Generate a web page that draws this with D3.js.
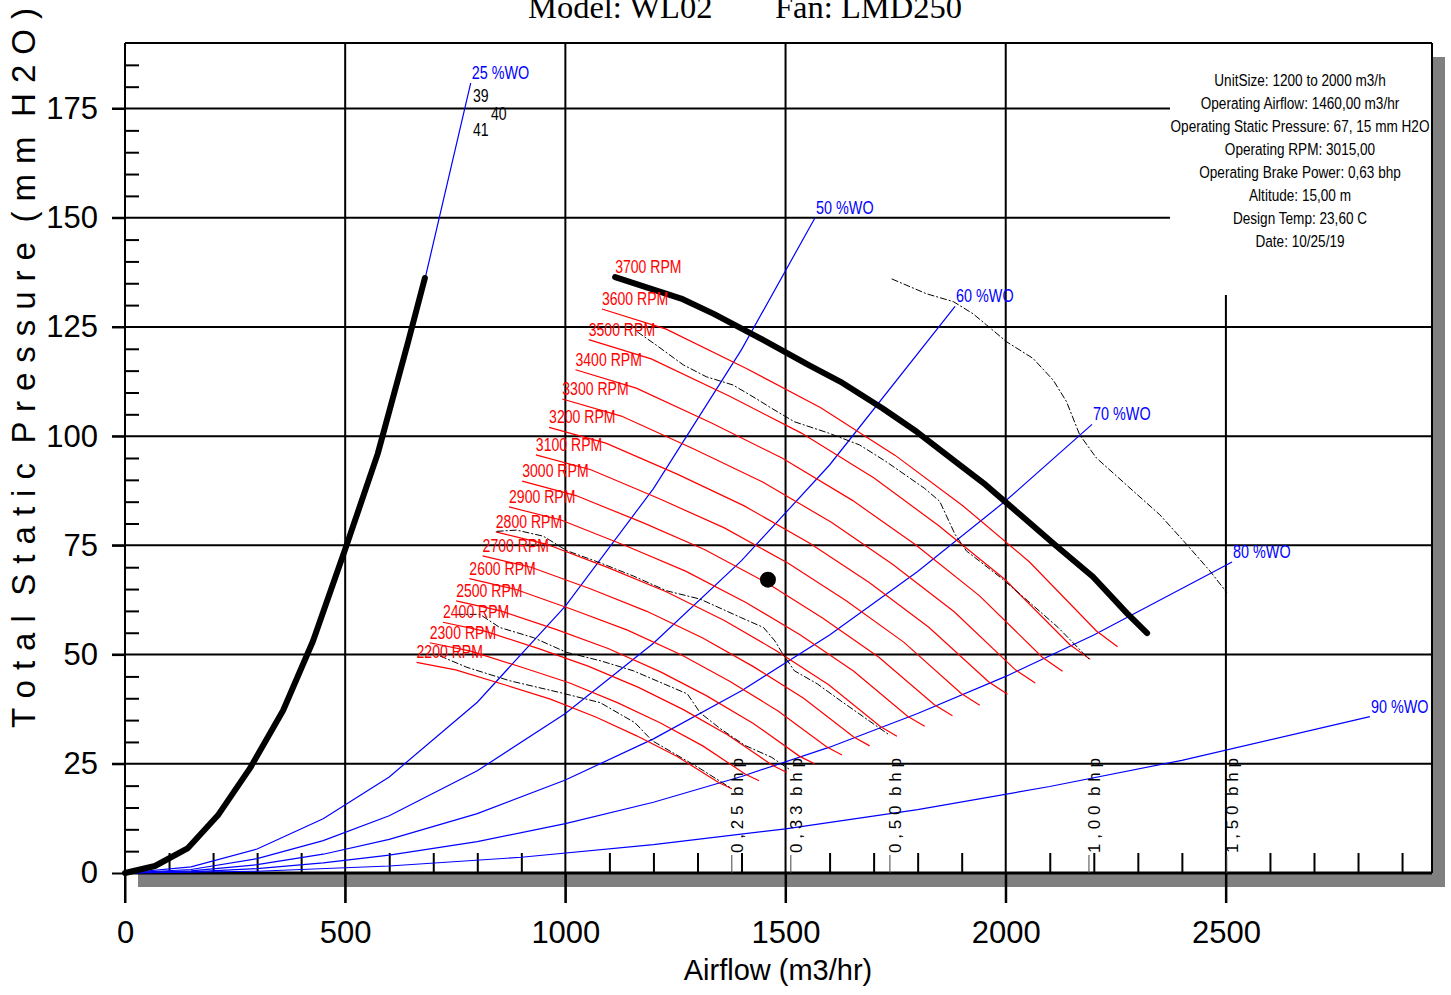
<!DOCTYPE html>
<html lang="en">
<head>
<meta charset="utf-8">
<title>Fan curve WL02 / LMD250</title>
<script src="https://d3js.org/d3.v7.min.js"></script>
<style>
  body { margin: 0; background: #fff; }
  svg text { font-family: "Liberation Sans", Arial, sans-serif; }
</style>
</head>
<body>
<svg id="chart" width="1451" height="995"></svg>
<script>
// tick labels
const xTicks = [0, 500, 1000, 1500, 2000, 2500];
const yTicks = [0, 25, 50, 75, 100, 125, 150, 175];

// thick curve on the left (25 %WO part drawn heavy)
const stallCurve = [[0,0],[68,1.6],[143,5.7],[211,13.2],[284,24.0],[359,37.2],[427,53.1],[500,74.1],[574,96.0],[643,121.6],[681,136.2]];

// max speed curve, 3700 RPM
const maxRpm = 3700;
const maxCurve = [[1113,136.4],[1263,131.5],[1337,128.0],[1450,122.0],[1554,116.2],[1624,112.5],[1720,106.4],[1798,101.0],[1885,94.2],[1954,88.9],[2041,81.3],[2111,75.2],[2198,67.8],[2275,59.5],[2321,54.9]];

// red rpm curves (airflow m3/hr, static mm H2O)
const rpmList = [3600, 3500, 3400, 3300, 3200, 3100, 3000, 2900, 2800, 2700, 2600, 2500, 2400, 2300, 2200];
const rpmCurves = [
  [[1083,129.1],[1229,124.5],[1411,115.5],[1580,106.5],[1749,95.6],[1901,84.2],[2054,71.2],[2206,55.4],[2254,51.8]],
  [[1053,122.1],[1195,117.7],[1372,109.2],[1536,100.7],[1701,90.4],[1848,79.5],[1997,67.3],[2145,52.3],[2192,48.9]],
  [[1023,115.2],[1161,111.0],[1332,103.0],[1492,95.0],[1652,85.3],[1796,75.1],[1940,63.5],[2083,49.4],[2129,46.2]],
  [[993,108.5],[1127,104.6],[1293,97.0],[1448,89.5],[1604,80.3],[1743,70.7],[1883,59.8],[2022,46.5],[2067,43.5]],
  [[963,102.0],[1092,98.4],[1254,91.3],[1405,84.1],[1555,75.5],[1690,66.5],[1826,56.2],[1961,43.8],[2004,40.9]],
  [[933,95.7],[1058,92.3],[1215,85.6],[1361,79.0],[1506,70.9],[1637,62.4],[1769,52.8],[1899,41.1],[1941,38.4]],
  [[902,89.7],[1024,86.4],[1176,80.2],[1317,74.0],[1458,66.4],[1584,58.4],[1712,49.4],[1838,38.5],[1879,36.0]],
  [[872,83.8],[990,80.8],[1137,74.9],[1273,69.1],[1409,62.0],[1532,54.6],[1655,46.2],[1777,35.9],[1816,33.6]],
  [[842,78.1],[956,75.3],[1097,69.9],[1229,64.4],[1361,57.8],[1479,50.9],[1598,43.1],[1716,33.5],[1753,31.3]],
  [[812,72.6],[922,70.0],[1058,65.0],[1185,59.9],[1312,53.8],[1426,47.3],[1541,40.0],[1654,31.2],[1691,29.1]],
  [[782,67.4],[888,64.9],[1019,60.2],[1141,55.6],[1264,49.9],[1373,43.9],[1483,37.1],[1593,28.9],[1628,27.0]],
  [[752,62.3],[853,60.0],[980,55.7],[1097,51.4],[1215,46.1],[1320,40.6],[1426,34.3],[1532,26.7],[1566,25.0]],
  [[722,57.4],[819,55.3],[941,51.3],[1053,47.3],[1166,42.5],[1268,37.4],[1369,31.6],[1471,24.6],[1503,23.0]],
  [[692,52.7],[785,50.8],[901,47.1],[1010,43.5],[1118,39.0],[1215,34.4],[1312,29.1],[1409,22.6],[1440,21.1]],
  [[662,48.2],[751,46.5],[862,43.1],[966,39.8],[1069,35.7],[1162,31.4],[1255,26.6],[1348,20.7],[1378,19.3]]
];

// blue wide-open system lines
const woLabels = ["25 %WO", "50 %WO", "60 %WO", "70 %WO", "80 %WO", "90 %WO"];
const woCurves = [
  [[0,0],[70,1.4],[145,6.2],[210,12.9],[285,23.8],[360,38.0],[430,54.2],[500,73.3],[575,96.9],[645,121.9],[681,135.9],[785,180.8]],
  [[0,0],[150,1.4],[300,5.5],[450,12.4],[600,22.0],[800,39.1],[1000,61.1],[1200,88.0],[1400,119.8],[1567,150.0]],
  [[0,0],[150,0.8],[300,3.3],[450,7.4],[600,13.1],[800,23.4],[1000,36.5],[1200,52.6],[1400,71.5],[1600,93.4],[1885,129.7]],
  [[0,0],[150,0.5],[300,1.9],[450,4.3],[600,7.7],[800,13.6],[1000,21.3],[1200,30.7],[1400,41.7],[1600,54.5],[1800,69.0],[2000,85.2],[2196,102.7]],
  [[0,0],[150,0.25],[300,1.0],[450,2.3],[600,4.1],[800,7.2],[1000,11.3],[1200,16.2],[1400,22.1],[1600,28.8],[1800,36.5],[2000,45.0],[2200,54.5],[2514,71.2]],
  [[0,0],[300,0.4],[600,1.6],[900,3.6],[1200,6.5],[1500,10.1],[1800,14.5],[2100,19.8],[2400,25.8],[2827,35.8]]
];

// brake power contours
const bhpLabels = ["0,25 bhp", "0,33 bhp", "0,50 bhp", "1,00 bhp", "1,50 bhp"];
const bhpCurves = [
  [[715,49.7],[776,47.1],[874,44.0],[988,41.3],[1079,39.0],[1158,34.4],[1197,30.3],[1306,23.9],[1378,19.3]],
  [[753,59.2],[806,59.2],[851,56.2],[927,53.9],[1003,50.5],[1079,48.6],[1154,46.3],[1277,41.0],[1306,36.7],[1351,33.1],[1408,29.2],[1468,26.5],[1512,23.5]],
  [[844,78.2],[889,78.5],[950,77.1],[1003,73.8],[1079,71.0],[1154,68.0],[1230,64.6],[1306,62.7],[1398,58.5],[1450,56.2],[1476,53.1],[1494,50.1],[1520,46.3],[1572,43.3],[1624,39.5],[1737,31.5]],
  [[1163,123.9],[1207,120.8],[1268,116.3],[1320,113.6],[1381,111.7],[1433,108.6],[1468,106.4],[1520,103.3],[1598,100.7],[1668,98.0],[1728,94.2],[1815,88.1],[1850,85.1],[1885,77.5],[1911,73.7],[1989,67.6],[2050,62.3],[2119,56.2],[2189,49.0]],
  [[1741,136.0],[1820,132.6],[1881,130.8],[1926,128.0],[1957,125.4],[2002,121.6],[2062,117.8],[2108,112.8],[2138,107.9],[2168,100.3],[2206,95.0],[2290,87.4],[2350,82.0],[2411,75.2],[2464,69.1],[2502,64.2]]
];

// small numbers near the 25 %WO line
const effLabels = ["39", "40", "41"];
const effPos = [[790,176.5],[831,172.4],[790,168.7]];

// operating point
const opPoint = [1460, 67.15];

const infoLines = [
  "UnitSize: 1200 to 2000 m3/h",
  "Operating Airflow: 1460,00 m3/hr",
  "Operating Static Pressure: 67, 15 mm H2O",
  "Operating RPM: 3015,00",
  "Operating Brake Power: 0,63 bhp",
  "Altitude: 15,00 m",
  "Design Temp: 23,60 C",
  "Date: 10/25/19"
];

const svg = d3.select("#chart");
const x = d3.scaleLinear().domain([0, 2968]).range([125, 1432]);
const y = d3.scaleLinear().domain([0, 190]).range([873, 43]);
const line = d3.line().x(d => x(d[0])).y(d => y(d[1]));

// spread letters apart, wider gap between words
function spaced(s) {
  return s.split(" ").map(w => w.split("").join(" ")).join("  ");
}

// shadow and plot area
svg.append("rect").attr("x", 138).attr("y", 57).attr("width", 1307).attr("height", 830).attr("fill", "#808080");
svg.append("rect").attr("x", 125).attr("y", 43).attr("width", 1307).attr("height", 830).attr("fill", "#fff");

// grid lines (2500 and upper lines stop at the info text)
const grid = svg.append("g").attr("stroke", "#000").attr("stroke-width", 2);
xTicks.filter(v => v > 0).forEach(v => {
  grid.append("line").attr("x1", x(v)).attr("x2", x(v))
    .attr("y1", v === 2500 ? y(132.3) : y(190)).attr("y2", 903);
});
yTicks.filter(v => v > 0).forEach(v => {
  grid.append("line").attr("y1", y(v)).attr("y2", y(v))
    .attr("x1", 112).attr("x2", v >= 150 ? x(2373) : x(2968));
});

// frame
svg.append("line").attr("x1", 125).attr("x2", 1432).attr("y1", 43).attr("y2", 43).attr("stroke", "#000").attr("stroke-width", 2);
svg.append("line").attr("x1", 1432).attr("x2", 1432).attr("y1", 43).attr("y2", 873).attr("stroke", "#000").attr("stroke-width", 2);
svg.append("line").attr("x1", 125).attr("x2", 125).attr("y1", 43).attr("y2", 903).attr("stroke", "#000").attr("stroke-width", 2);

// minor ticks
const xMinor = d3.range(100, 2968, 100).filter(v => v % 500);
svg.append("g").attr("transform", `translate(0,${y(0)})`)
  .call(d3.axisTop(x).tickValues(xMinor).tickSize(20).tickFormat(""))
  .call(g => g.select(".domain").remove())
  .selectAll("line").attr("stroke-width", 2);
const yMinor = d3.range(5, 190, 5).filter(v => v % 25);
svg.append("g").attr("transform", "translate(125,0)")
  .call(d3.axisRight(y).tickValues(yMinor).tickSize(14).tickFormat(""))
  .call(g => g.select(".domain").remove())
  .selectAll("line").attr("stroke-width", 2);

// major axes
const xAxis = svg.append("g").attr("transform", `translate(0,${y(0)})`)
  .call(d3.axisBottom(x).tickValues(xTicks).tickSize(30).tickPadding(18).tickFormat(d3.format("d")));
xAxis.select(".domain").remove();
xAxis.selectAll("line").attr("stroke-width", 2);
xAxis.selectAll("text").attr("font-size", 31).attr("font-family", "Liberation Sans, Arial, sans-serif");

const yAxis = svg.append("g").attr("transform", "translate(125,0)")
  .call(d3.axisLeft(y).tickValues(yTicks).tickSize(13).tickPadding(14));
yAxis.select(".domain").remove();
yAxis.selectAll("line").attr("stroke-width", 2);
yAxis.selectAll("text").attr("font-size", 31).attr("font-family", "Liberation Sans, Arial, sans-serif");

svg.append("line").attr("x1", 125).attr("x2", 1432).attr("y1", y(0)).attr("y2", y(0)).attr("stroke", "#000").attr("stroke-width", 3);

// blue system lines
svg.append("g").selectAll("path").data(woCurves).join("path")
  .attr("d", line).attr("fill", "none").attr("stroke", "#0000ff").attr("stroke-width", 1.2);

// red rpm lines
svg.append("g").selectAll("path").data(rpmCurves).join("path")
  .attr("d", line).attr("fill", "none").attr("stroke", "#ff0000").attr("stroke-width", 1.2);

// brake power contours
svg.append("g").selectAll("path").data(bhpCurves).join("path")
  .attr("d", line).attr("fill", "none").attr("stroke", "#000").attr("stroke-width", 1)
  .attr("stroke-dasharray", "7,2,2,2");

// heavy curves
[stallCurve, maxCurve].forEach(c => {
  svg.append("path").attr("d", line(c)).attr("fill", "none").attr("stroke", "#000")
    .attr("stroke-width", 6).attr("stroke-linecap", "round").attr("stroke-linejoin", "round");
});

// operating point
svg.append("circle").attr("cx", x(opPoint[0])).attr("cy", y(opPoint[1])).attr("r", 8).attr("fill", "#000");

// narrow labels helper
function narrow(g, txt, px, py, size, sx, color, anchor) {
  g.append("text").attr("transform", `translate(${px},${py}) scale(${sx},1)`)
    .attr("font-size", size).attr("fill", color).attr("text-anchor", anchor || "start").text(txt);
}

const lab = svg.append("g");
narrow(lab, maxRpm + " RPM", x(maxCurve[0][0]), y(maxCurve[0][1]) - 4, 19, 0.74, "#ff0000");
rpmList.forEach((r, i) => {
  narrow(lab, r + " RPM", x(rpmCurves[i][0][0]), y(rpmCurves[i][0][1]) - 4, 19, 0.74, "#ff0000");
});
woCurves.forEach((c, i) => {
  const e = c[c.length - 1];
  narrow(lab, woLabels[i], x(e[0]) + 1, y(e[1]) - 4, 18, 0.8, "#0000ff");
});
effLabels.forEach((t, i) => {
  narrow(lab, t, x(effPos[i][0]), y(effPos[i][1]), 19, 0.74, "#000");
});

// bhp labels, rotated at the end of each contour
bhpCurves.forEach((c, i) => {
  const ex = x(c[c.length - 1][0]);
  svg.append("line").attr("x1", ex).attr("x2", ex).attr("y1", 855).attr("y2", 873)
    .attr("stroke", "#444").attr("stroke-width", 1);
  svg.append("text").attr("transform", `translate(${ex + 11},853) rotate(-90)`)
    .attr("font-size", 17).attr("textLength", 95).attr("lengthAdjust", "spacing")
    .attr("xml:space", "preserve").style("white-space", "pre")
    .text(spaced(bhpLabels[i]));
});

// info text
infoLines.forEach((t, i) => {
  narrow(svg, t, 1300, 86 + i * 23, 17, 0.8, "#000", "middle");
});

// titles
const serif = "'Liberation Serif', 'Times New Roman', serif";
svg.append("text").attr("x", 528).attr("y", 18).attr("font-size", 32.5)
  .style("font-family", serif).text("Model: WL02");
svg.append("text").attr("x", 775).attr("y", 18).attr("font-size", 32.5)
  .style("font-family", serif).text("Fan: LMD250");

svg.append("text").attr("x", 778).attr("y", 980).attr("font-size", 29).attr("text-anchor", "middle")
  .text("Airflow (m3/hr)");

svg.append("text").attr("transform", "translate(35,728) rotate(-90)")
  .attr("font-size", 33).attr("textLength", 720).attr("lengthAdjust", "spacing")
  .attr("xml:space", "preserve").style("white-space", "pre")
  .text(spaced("Total Static Pressure (mm H2O)"));
</script>
</body>
</html>
